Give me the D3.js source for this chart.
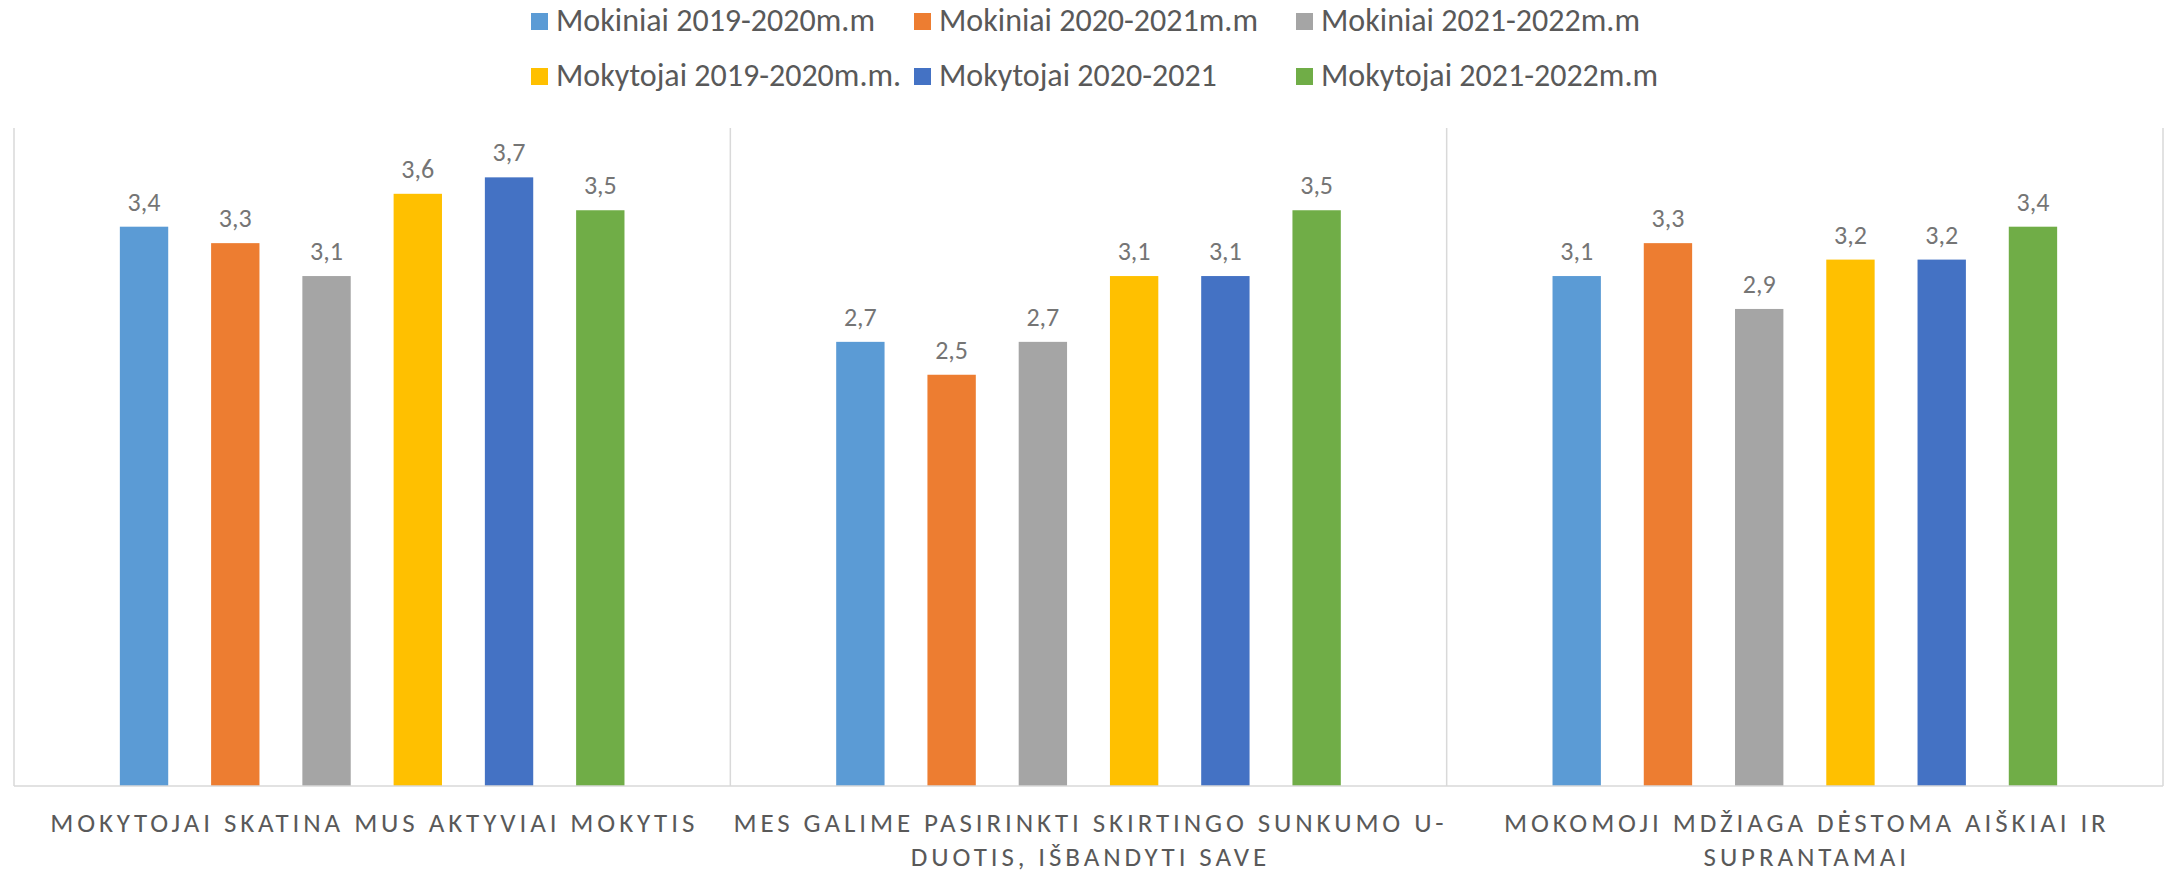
<!DOCTYPE html>
<html>
<head>
<meta charset="utf-8">
<script src="https://cdn.jsdelivr.net/npm/d3@7"></script>
<style>
  html, body { margin: 0; padding: 0; background: #fff; }
  svg { display: block; }
  text { font-family: Carlito, Calibri, Lato, "Open Sans", sans-serif; }
</style>
</head>
<body>
<svg id="chart" width="2165" height="872"></svg>
<script>
  // categories (each split into the lines Excel wrapped them into)
  var categories = ["c1", "c2", "c3"];
  var categoryLines = [
    ["MOKYTOJAI SKATINA MUS AKTYVIAI MOKYTIS"],
    ["MES GALIME PASIRINKTI SKIRTINGO SUNKUMO U-", "DUOTIS, IŠBANDYTI SAVE"],
    ["MOKOMOJI MDŽIAGA DĖSTOMA AIŠKIAI IR", "SUPRANTAMAI"]
  ];
  var seriesNames = [
    "Mokiniai 2019-2020m.m",
    "Mokiniai 2020-2021m.m",
    "Mokiniai 2021-2022m.m",
    "Mokytojai 2019-2020m.m.",
    "Mokytojai 2020-2021",
    "Mokytojai 2021-2022m.m"
  ];
  var seriesColors = ["#5b9bd5", "#ed7d31", "#a5a5a5", "#ffc000", "#4472c4", "#70ad47"];
  // values[series][category]
  var values = [
    [3.4, 2.7, 3.1],
    [3.3, 2.5, 3.3],
    [3.1, 2.7, 2.9],
    [3.6, 3.1, 3.2],
    [3.7, 3.1, 3.2],
    [3.5, 3.5, 3.4]
  ];

  var svg = d3.select("#chart");
  var plot = { left: 14, right: 2163, top: 128, bottom: 786 };

  var x0 = d3.scaleBand().domain(categories).range([plot.left, plot.right]).padding(0);
  var x1 = d3.scaleBand()
    .domain(d3.range(seriesNames.length))
    .range([0, x0.bandwidth()])
    .paddingInner(0.47)
    .paddingOuter(1.16);
  var y = d3.scaleLinear().domain([0, 4]).range([plot.bottom, plot.top]);

  // category separators (Excel vertical gridlines between categories)
  var bounds = categories.map(function (c) { return x0(c); }).concat([plot.right]);
  svg.append("g")
    .selectAll("line")
    .data(bounds)
    .join("line")
    .attr("x1", function (d) { return d; })
    .attr("x2", function (d) { return d; })
    .attr("y1", plot.top)
    .attr("y2", plot.bottom)
    .attr("stroke", "#d9d9d9")
    .attr("stroke-width", 1.5);

  var groups = svg.append("g")
    .selectAll("g")
    .data(categories)
    .join("g")
    .attr("transform", function (c) { return "translate(" + x0(c) + ",0)"; });

  function cells(c, ci) {
    return values.map(function (s, si) { return { si: si, v: s[ci] }; });
  }

  groups.selectAll("rect")
    .data(cells)
    .join("rect")
    .attr("x", function (d) { return x1(d.si); })
    .attr("width", x1.bandwidth())
    .attr("y", function (d) { return y(d.v); })
    .attr("height", function (d) { return y(0) - y(d.v); })
    .attr("fill", function (d) { return seriesColors[d.si]; });

  groups.selectAll("text.value")
    .data(cells)
    .join("text")
    .attr("class", "value")
    .attr("x", function (d) { return x1(d.si) + x1.bandwidth() / 2; })
    .attr("y", function (d) { return y(d.v) - 16; })
    .attr("text-anchor", "middle")
    .attr("fill", "#757575")
    .attr("font-size", 26)
    .text(function (d) { return String(d.v).replace(".", ","); });

  // baseline
  svg.append("line")
    .attr("x1", plot.left)
    .attr("x2", plot.right)
    .attr("y1", plot.bottom)
    .attr("y2", plot.bottom)
    .attr("stroke", "#d9d9d9")
    .attr("stroke-width", 1.5);

  // category labels
  var xAxis = svg.append("g");
  categories.forEach(function (c, ci) {
    var t = xAxis.append("text")
      .attr("text-anchor", "middle")
      .attr("fill", "#595959")
      .attr("font-size", 27)
      .attr("letter-spacing", "3.9px");
    categoryLines[ci].forEach(function (line, li) {
      t.append("tspan")
        .attr("x", x0(c) + x0.bandwidth() / 2 + 2)
        .attr("y", 832 + li * 34)
        .text(line);
    });
  });

  // legend, 3 columns x 2 rows
  var legendCols = [531, 914, 1296];
  var legendRows = [31, 86];
  var legend = svg.append("g")
    .selectAll("g")
    .data(seriesNames)
    .join("g")
    .attr("transform", function (d, i) {
      return "translate(" + legendCols[i % 3] + "," + legendRows[Math.floor(i / 3)] + ")";
    });
  legend.append("rect")
    .attr("x", 0)
    .attr("y", -18)
    .attr("width", 17)
    .attr("height", 17)
    .attr("fill", function (d, i) { return seriesColors[i]; });
  legend.append("text")
    .attr("x", 25)
    .attr("y", 0)
    .attr("fill", "#595959")
    .attr("font-size", 32)
    .text(function (d) { return d; });
</script>
</body>
</html>
